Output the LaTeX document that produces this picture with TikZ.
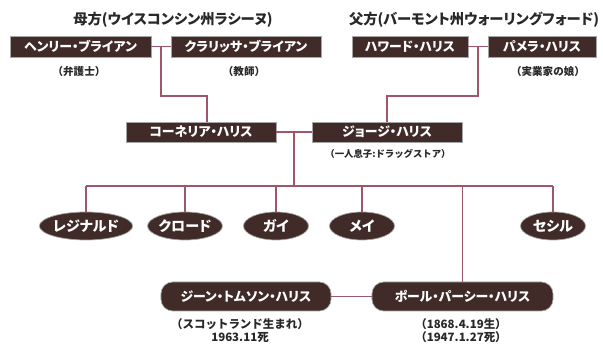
\documentclass[tikz,border=0pt]{standalone}
\usepackage{fontspec}
\setmainfont{Noto Sans CJK JP}[RawFeature=+palt]
\newfontfamily\notefont{Noto Sans CJK JP}
\usepackage{xcolor}
\definecolor{boxbrown}{RGB}{64,43,41}
\definecolor{linkred}{RGB}{160,85,105}
\definecolor{inkgray}{RGB}{40,40,40}
\usetikzlibrary{positioning,shapes.geometric}

\begin{document}
\begin{tikzpicture}[x=0.03cm,y=-0.03cm,
	person/.style={rectangle,fill=boxbrown,draw=black!35,line width=.6pt,text=white,
		font=\fontsize{11}{12}\selectfont\bfseries,inner sep=0pt,minimum height=0.63cm},
	child/.style={ellipse,fill=boxbrown,draw=black!35,line width=.6pt,text=white,
		font=\fontsize{12}{13}\selectfont\bfseries,inner sep=0pt,minimum height=0.84cm},
	pill/.style={rectangle,rounded corners=10pt,fill=boxbrown,draw=black!35,line width=.6pt,text=white,
		font=\fontsize{11}{12}\selectfont\bfseries,inner sep=0pt,minimum height=0.87cm},
	note/.style={text=inkgray,font=\notefont\fontsize{9}{10}\selectfont\bfseries,inner sep=0pt},
	link/.style={draw=linkred,line width=.9pt}]
	\useasboundingbox (0,0) rectangle (603,345);
	
	% titles
	\node[note,font=\fontsize{12.2}{14}\selectfont\bfseries] (mtitle) at (173,20) {母方(ウイスコンシン州ラシーヌ)};
	\node[note,font=\fontsize{12.2}{14}\selectfont\bfseries] (ftitle) at (474,20) {父方(バーモント州ウォーリングフォード)};
	
	% draw grandparents
	\node[person,minimum width=4.23cm] (henry) at (80.5,46.5) {ヘンリー・ブライアン};
	\node[person,minimum width=4.5cm] (clarissa) at (246,46.5) {クラリッサ・ブライアン};
	\node[person,minimum width=3.48cm] (howard) at (410,46.5) {ハワード・ハリス};
	\node[person,minimum width=3.24cm] (pamela) at (542,46.5) {パメラ・ハリス};
	\node[note] (henrynote) at (79,71) {（弁護士）};
	\node[note] (clarissanote) at (244,71) {（教師）};
	\node[note] (pamelanote) at (548,71) {（実業家の娘）};
	
	% draw parents
	\node[person,minimum width=4.5cm,minimum height=0.6cm] (cornelia) at (201,132) {コーネリア・ハリス};
	\node[person,minimum width=4.5cm,minimum height=0.6cm] (george) at (387,132) {ジョージ・ハリス};
	\node[note,font=\notefont\fontsize{8}{9}\selectfont\bfseries] (georgenote) at (388,154) {（一人息子:ドラッグストア）};
	
	% draw children
	\node[child,minimum width=2.46cm] (reginald) at (86,226) {レジナルド};
	\node[child,minimum width=2.13cm] (claude) at (185,226) {クロード};
	\node[child,minimum width=1.95cm] (guy) at (276,226) {ガイ};
	\node[child,minimum width=1.95cm] (may) at (362,226) {メイ};
	\node[child,minimum width=1.95cm] (cecil) at (553,226) {セシル};
	
	% draw paul and jean
	\node[pill,minimum width=5.1cm] (jean) at (246,296.5) {ジーン・トムソン・ハリス};
	\node[pill,minimum width=5.43cm] (paul) at (462.5,296.5) {ポール・パーシー・ハリス};
	\node[note,font=\notefont\fontsize{9.8}{11.5}\selectfont\bfseries,align=center] (jeannote) at (240,330.5) {（スコットランド生まれ）\\1963.11死};
	\node[note,font=\notefont\fontsize{9.8}{11.5}\selectfont\bfseries,align=center] (paulnote) at (461,330.5) {（1868.4.19生）\\（1947.1.27死）};
	
	% draw lines
	\coordinate (mj) at (161,46.5);
	\coordinate (mk) at (207,96);
	\coordinate (fj) at (478,46.5);
	\coordinate (fk) at (387,96);
	\coordinate (cj) at (294,132);
	\coordinate (bar) at (294,186);
	\draw[link] (henry) -- (clarissa);
	\draw[link] (howard) -- (pamela);
	\draw[link] (mj) |- (mk) -- (mk |- cornelia.north);
	\draw[link] (fj) |- (fk) -- (george.north);
	\draw[link] (cornelia) -- (george);
	\draw[link] (cj) -- (bar);
	\draw[link] (reginald.north |- bar) -- (cecil.north |- bar);
	\foreach \kid in {reginald,claude,guy,may,cecil}
		\draw[link] (\kid.north |- bar) -- (\kid.north);
	\draw[link] (paul.north |- bar) -- (paul.north);
	\draw[link] (jean) -- (paul);
	
\end{tikzpicture}
\end{document}
